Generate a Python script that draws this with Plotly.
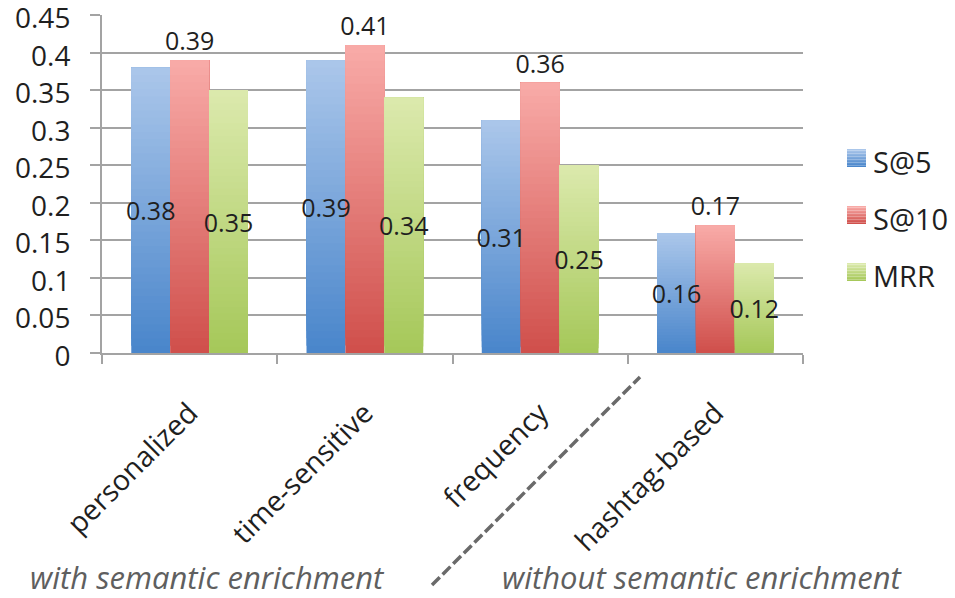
import plotly.graph_objects as go

# ---- data -------------------------------------------------------------
categories = ["personalized", "time-sensitive", "frequency", "hashtag-based"]
series_names = ["S@5", "S@10", "MRR"]
s_at_5 = [0.38, 0.39, 0.31, 0.16]
s_at_10 = [0.39, 0.41, 0.36, 0.17]
mrr = [0.35, 0.34, 0.25, 0.12]
y_ticks = [0, 0.05, 0.1, 0.15, 0.2, 0.25, 0.3, 0.35, 0.4, 0.45]
y_tick_text = ["0", "0.05", "0.1", "0.15", "0.2", "0.25", "0.3", "0.35", "0.4", "0.45"]
group_labels = ["with semantic enrichment", "without semantic enrichment"]

# ---- styling ----------------------------------------------------------
W, H = 955, 598
PLOT_L, PLOT_R, PLOT_T, PLOT_B = 102, 803, 15, 353
FONT = "Open Sans"
TEXT = "#1f1f1f"
GRID = "#a3a3a3"

# (bottom colour, top colour) for the vertical gradient of each series
gradients = [
    ((74, 134, 203), (170, 198, 234)),
    ((208, 80, 76), (248, 170, 167)),
    ((166, 200, 90), (219, 233, 172)),
]
bar_width = 0.222
offsets = [-0.333, -0.111, 0.111]
label_inside = [True, False, True]
N_STEPS = 40


def mix(c0, c1, t):
    return "rgb({},{},{})".format(*[round(a + (b - a) * t) for a, b in zip(c0, c1)])


def px_x(x):
    return (x - PLOT_L) / (PLOT_R - PLOT_L)


def px_y(y):
    return (PLOT_B - y) / (PLOT_B - PLOT_T)


fig = go.Figure()

all_values = [s_at_5, s_at_10, mrr]

# gradient-filled bars: each bar is painted as overlapping layers from the
# bottom up, each layer reaching the bar's full value
for values, (c_bot, c_top), off in zip(all_values, gradients, offsets):
    xs, bases, heights, colors = [], [], [], []
    for cat, v in zip(categories, values):
        for k in range(N_STEPS):
            b = v * k / N_STEPS
            xs.append(cat)
            bases.append(b)
            heights.append(v - b)
            colors.append(mix(c_bot, c_top, k / (N_STEPS - 1)))
    fig.add_trace(go.Bar(
        x=xs, y=heights, base=bases, width=bar_width, offset=off,
        marker=dict(color=colors, line=dict(width=0)),
        hoverinfo="skip", showlegend=False,
    ))

# value labels (transparent bars carrying the text)
for name, values, off, inside in zip(series_names, all_values, offsets, label_inside):
    fig.add_trace(go.Bar(
        x=categories, y=values, width=bar_width, offset=off, name=name,
        marker=dict(color="rgba(0,0,0,0)", line=dict(width=0)),
        text=[f"{v:.2f}" for v in values],
        textposition="inside" if inside else "outside",
        insidetextanchor="middle", textangle=0, constraintext="none",
        textfont=dict(family=FONT, size=25, color=TEXT),
        cliponaxis=False, showlegend=False,
        hovertemplate="%{x}<br>" + name + ": %{y}<extra></extra>",
    ))

shapes = []
annotations = []

# legend: gradient swatches plus labels
legend_y = [158, 215, 272]
for name, (c_bot, c_top), cy in zip(series_names, gradients, legend_y):
    top, bot = cy - 9, cy + 9
    steps = 12
    for k in range(steps):
        y0 = bot - (bot - top) * k / steps
        y1 = bot - (bot - top) * (k + 1) / steps
        shapes.append(dict(
            type="rect", xref="paper", yref="paper",
            x0=px_x(847), x1=px_x(866), y0=px_y(y0), y1=px_y(y1),
            line=dict(width=0), fillcolor=mix(c_bot, c_top, k / (steps - 1)),
        ))
    annotations.append(dict(
        xref="paper", yref="paper", x=px_x(871), y=px_y(cy + 3),
        text=name, showarrow=False, xanchor="left", yanchor="middle",
        font=dict(family=FONT, size=29, color=TEXT),
    ))

# dashed divider between the two groups of methods
shapes.append(dict(
    type="line", xref="paper", yref="paper",
    x0=px_x(432), y0=px_y(585), x1=px_x(640), y1=px_y(377),
    line=dict(color="#6a6a6a", width=3.5, dash="11px,4px"),
))

# group captions
for text, x_left in zip(group_labels, [28, 500]):
    annotations.append(dict(
        xref="paper", yref="paper", x=px_x(x_left), y=px_y(577),
        text=f"<i>{text}</i>", showarrow=False,
        xanchor="left", yanchor="middle",
        font=dict(family=FONT, size=31, color="#5f5f5f"),
    ))

fig.update_layout(
    width=W, height=H,
    margin=dict(l=PLOT_L, r=W - PLOT_R, t=PLOT_T, b=H - PLOT_B),
    barmode="overlay",
    paper_bgcolor="white", plot_bgcolor="white",
    showlegend=False,
    shapes=shapes, annotations=annotations,
    font=dict(family=FONT, color=TEXT),
    xaxis=dict(
        type="category", range=[-0.5, 3.5], automargin=False,
        showgrid=False, showline=True, linecolor=GRID, linewidth=2,
        ticks="outside", tickson="boundaries", ticklen=9, tickwidth=2,
        tickcolor=GRID, tickangle=-45, ticklabelstandoff=30,
        tickfont=dict(family=FONT, size=28.5, color=TEXT),
    ),
    yaxis=dict(
        range=[0, 0.4503], tickmode="array", automargin=False,
        tickvals=y_ticks, ticktext=y_tick_text,
        showgrid=True, gridcolor=GRID, gridwidth=2,
        showline=True, linecolor=GRID, linewidth=2,
        ticks="outside", ticklen=10, tickwidth=2, tickcolor=GRID,
        ticklabelstandoff=14, ticklabelshift=3, ticklabeloverflow="allow",
        tickfont=dict(family=FONT, size=28, color=TEXT),
        zeroline=False,
    ),
)

fig.write_html("out.html")
